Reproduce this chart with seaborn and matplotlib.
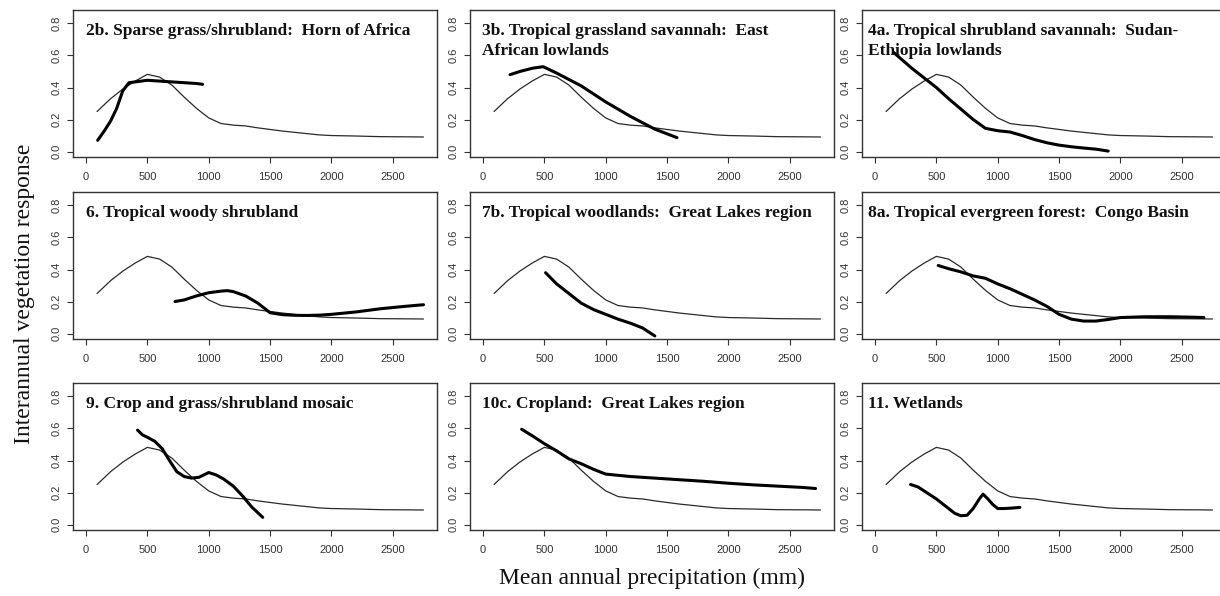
import matplotlib
matplotlib.use("Agg")
import matplotlib.pyplot as plt
import pandas as pd
import seaborn as sns

# reference curve (thin line, same in every panel)
ref_x = [90, 200, 300, 400, 500, 600, 700, 800, 900, 1000, 1100, 1200, 1300, 1400,
         1500, 1600, 1700, 1800, 1900, 2000, 2200, 2400, 2600, 2750]
ref_y = [0.25, 0.33, 0.39, 0.44, 0.482, 0.465, 0.415, 0.34, 0.27, 0.21, 0.175, 0.165,
         0.16, 0.148, 0.138, 0.128, 0.12, 0.112, 0.104, 0.1, 0.097, 0.093, 0.092, 0.091]

# region curves (thick line)
x_2b = [95, 150, 200, 250, 300, 350, 400, 500, 600, 700, 800, 900, 950]
y_2b = [0.07, 0.13, 0.19, 0.27, 0.38, 0.43, 0.435, 0.445, 0.44, 0.435, 0.43, 0.425, 0.42]

x_3b = [220, 300, 400, 490, 600, 800, 1000, 1200, 1400, 1580]
y_3b = [0.48, 0.50, 0.52, 0.53, 0.49, 0.41, 0.31, 0.22, 0.14, 0.087]

x_4a = [150, 300, 400, 500, 600, 700, 800, 900, 1000, 1100, 1200, 1300, 1400, 1500,
        1600, 1700, 1800, 1900]
y_4a = [0.62, 0.52, 0.46, 0.40, 0.33, 0.265, 0.20, 0.145, 0.13, 0.122, 0.10, 0.075,
        0.055, 0.04, 0.03, 0.022, 0.015, 0.003]

x_6 = [725, 800, 900, 1000, 1100, 1150, 1200, 1300, 1400, 1500, 1600, 1700, 1800,
       1900, 2000, 2200, 2400, 2600, 2750]
y_6 = [0.20, 0.21, 0.235, 0.255, 0.265, 0.268, 0.262, 0.235, 0.19, 0.13, 0.118, 0.114,
       0.113, 0.115, 0.12, 0.135, 0.155, 0.17, 0.18]

x_7b = [510, 600, 700, 800, 900, 1000, 1100, 1200, 1300, 1400]
y_7b = [0.38, 0.31, 0.25, 0.19, 0.15, 0.12, 0.09, 0.065, 0.035, -0.015]

x_8a = [515, 600, 700, 800, 900, 1000, 1100, 1200, 1300, 1400, 1500, 1600, 1700, 1800,
        1900, 2000, 2200, 2400, 2600, 2680]
y_8a = [0.425, 0.405, 0.385, 0.36, 0.345, 0.31, 0.28, 0.245, 0.21, 0.17, 0.12, 0.09,
        0.078, 0.078, 0.088, 0.1, 0.105, 0.105, 0.102, 0.1]

x_9 = [420, 460, 500, 560, 620, 680, 740, 800, 860, 920, 1000, 1060, 1120, 1200, 1280,
       1350, 1440]
y_9 = [0.59, 0.56, 0.545, 0.52, 0.475, 0.40, 0.33, 0.30, 0.29, 0.295, 0.325, 0.31,
       0.285, 0.24, 0.175, 0.11, 0.045]

x_10c = [315, 400, 500, 600, 700, 800, 900, 1000, 1200, 1400, 1600, 1800, 2000, 2200,
         2400, 2600, 2710]
y_10c = [0.595, 0.555, 0.505, 0.46, 0.41, 0.38, 0.345, 0.315, 0.3, 0.29, 0.28, 0.27,
         0.258, 0.248, 0.24, 0.232, 0.225]

x_11 = [290, 350, 400, 450, 500, 550, 600, 650, 700, 750, 800, 850, 880, 920, 960, 1000,
        1050, 1100, 1180]
y_11 = [0.25, 0.235, 0.21, 0.185, 0.16, 0.13, 0.10, 0.07, 0.055, 0.058, 0.1, 0.16, 0.19,
        0.16, 0.125, 0.10, 0.10, 0.102, 0.107]

titles = ["2b. Sparse grass/shrubland:  Horn of Africa",
          "3b. Tropical grassland savannah:  East\nAfrican lowlands",
          "4a. Tropical shrubland savannah:  Sudan-\nEthiopia lowlands",
          "6. Tropical woody shrubland",
          "7b. Tropical woodlands:  Great Lakes region",
          "8a. Tropical evergreen forest:  Congo Basin",
          "9. Crop and grass/shrubland mosaic",
          "10c. Cropland:  Great Lakes region",
          "11. Wetlands"]
curves = [(x_2b, y_2b), (x_3b, y_3b), (x_4a, y_4a), (x_6, y_6), (x_7b, y_7b),
          (x_8a, y_8a), (x_9, y_9), (x_10c, y_10c), (x_11, y_11)]

x_ticks = [0, 500, 1000, 1500, 2000, 2500]
y_ticks = [0.0, 0.2, 0.4, 0.6, 0.8]

sns.set_style("ticks")
plt.rcParams['font.family'] = ['Liberation Sans', 'DejaVu Sans']

fig = plt.figure(figsize=(12.2, 5.96), dpi=100)
W, H = 1220, 596
lefts = [73, 470, 862]
tops = [10, 192, 383]
bw, bh = 364, 147
title_dx = [13, 12, 6]

ref = pd.DataFrame({"x": ref_x, "y": ref_y})
for i, (title, (cx, cy)) in enumerate(zip(titles, curves)):
    r, c = divmod(i, 3)
    ax = fig.add_axes([lefts[c] / W, 1 - (tops[r] + bh) / H, bw / W, bh / H])
    sns.lineplot(data=ref, x="x", y="y", ax=ax, color="#2a2a2a", lw=0.9,
                 estimator=None, sort=False)
    reg = pd.DataFrame({"x": cx, "y": cy})
    sns.lineplot(data=reg, x="x", y="y", ax=ax, color="black", lw=2.2,
                 estimator=None, sort=False)
    ax.set_xlim(-106, 2860)
    ax.set_ylim(-0.034, 0.884)
    ax.set_xticks(x_ticks)
    ax.set_yticks(y_ticks)
    ax.set_yticklabels([f"{v:.1f}" for v in y_ticks], rotation=90, va="center")
    ax.tick_params(labelsize=8, length=4.5, width=0.8, color="#333333",
                   labelcolor="#333333")
    ax.tick_params(axis="x", pad=6)
    ax.tick_params(axis="y", pad=4)
    ax.set_xlabel("")
    ax.set_ylabel("")
    for s in ax.spines.values():
        s.set_color("#333333")
        s.set_linewidth(1.0)
    ax.text(title_dx[c] / bw, 0.91, title, transform=ax.transAxes, ha="left",
            va="top", fontsize=12.5, fontweight="bold", family=["Liberation Serif"],
            color="#111111", linespacing=1.35)

fig.text(25 / W, 1 - 294 / H, "Interannual vegetation response", rotation=90,
         ha="center", va="center", fontsize=17, family=["Liberation Serif"],
         color="#111111")
fig.text(652 / W, 1 - 578 / H, "Mean annual precipitation (mm)", ha="center",
         va="center", fontsize=17, family=["Liberation Serif"], color="#111111")

fig.savefig("out.png", dpi=100)
